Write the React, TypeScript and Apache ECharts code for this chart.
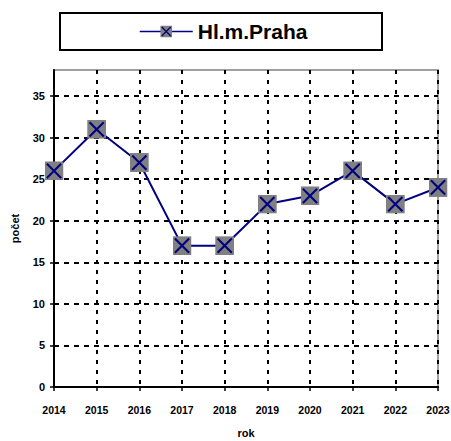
import React, { useEffect, useRef } from "react";
import * as echarts from "echarts";

const years = ["2014", "2015", "2016", "2017", "2018", "2019", "2020", "2021", "2022", "2023"];
const counts = [26, 31, 27, 17, 17, 22, 23, 26, 22, 24];
const seriesName = "Hl.m.Praha";
const yTicks = [0, 5, 10, 15, 20, 25, 30, 35];

const markerSvg =
  "<svg xmlns='http://www.w3.org/2000/svg' width='20' height='20' viewBox='0 0 20 20'>" +
  "<rect width='20' height='20' fill='#808080'/>" +
  "<path d='M2.5,2.5L17.5,17.5M17.5,2.5L2.5,17.5' stroke='#000080' stroke-width='2.2' fill='none'/>" +
  "</svg>";
const markerSymbol = "image://data:image/svg+xml;utf8," + encodeURIComponent(markerSvg);

export default function App() {
  const ref = useRef<HTMLDivElement>(null);
  useEffect(() => {
    if (!ref.current) return;
    const chart = echarts.init(ref.current, null, { renderer: "svg" });
    const font = "Arial, 'Liberation Sans', sans-serif";
    chart.setOption({
      animation: false,
      backgroundColor: "#ffffff",
      graphic: [
        {
          type: "rect",
          shape: { x: 60, y: 13, width: 322, height: 37 },
          style: { fill: "#ffffff", stroke: "#000000", lineWidth: 2 },
          z: 0,
        },
      ],
      legend: {
        data: [seriesName],
        left: 139,
        top: 21,
        padding: 0,
        itemWidth: 53,
        itemHeight: 15,
        lineStyle: { width: 1.5 },
        textStyle: { fontFamily: font, fontWeight: "bold", fontSize: 21, color: "#000000" },
        z: 5,
      },
      grid: {
        left: 54,
        right: 13,
        top: 70,
        bottom: 54,
        outerBoundsMode: "none",
        containLabel: false,
        show: true,
        borderColor: "#a0a0a0",
        borderWidth: 2,
        backgroundColor: "#ffffff",
      },
      xAxis: {
        type: "category",
        data: years,
        boundaryGap: false,
        name: "rok",
        nameLocation: "middle",
        nameGap: 40,
        nameTextStyle: { fontFamily: font, fontWeight: "bold", fontSize: 11, color: "#000000" },
        axisLine: { lineStyle: { color: "#000000", width: 2 } },
        axisTick: { show: true, length: 4, lineStyle: { color: "#000000", width: 1.5 } },
        axisLabel: { margin: 17, fontFamily: font, fontWeight: "bold", fontSize: 10.5, color: "#000000" },
        splitLine: { show: true, lineStyle: { color: "#000000", width: 2, type: [4, 6] } },
      },
      yAxis: {
        type: "value",
        min: 0,
        max: 38.13,
        interval: 5,
        name: "počet",
        nameLocation: "middle",
        nameGap: 34,
        nameTextStyle: { fontFamily: font, fontWeight: "bold", fontSize: 11, color: "#000000" },
        axisLine: { show: true, lineStyle: { color: "#000000", width: 2 } },
        axisTick: { show: true, length: 4, customValues: yTicks, lineStyle: { color: "#000000", width: 1.5 } },
        axisLabel: {
          margin: 9,
          customValues: yTicks,
          fontFamily: font,
          fontWeight: "bold",
          fontSize: 11,
          color: "#000000",
        },
        splitLine: { show: true, lineStyle: { color: "#000000", width: 1.8, type: [5, 5] } },
      },
      series: [
        {
          name: seriesName,
          type: "line",
          data: counts,
          clip: false,
          symbol: markerSymbol,
          symbolSize: 19,
          showAllSymbol: true,
          lineStyle: { color: "#000080", width: 2 },
          itemStyle: { color: "#000080" },
          z: 3,
        },
      ],
    });
    return () => chart.dispose();
  }, []);
  return (
    <div
      ref={ref}
      style={{ position: "fixed", left: 0, top: 0, width: 451, height: 441 }}
    />
  );
}
